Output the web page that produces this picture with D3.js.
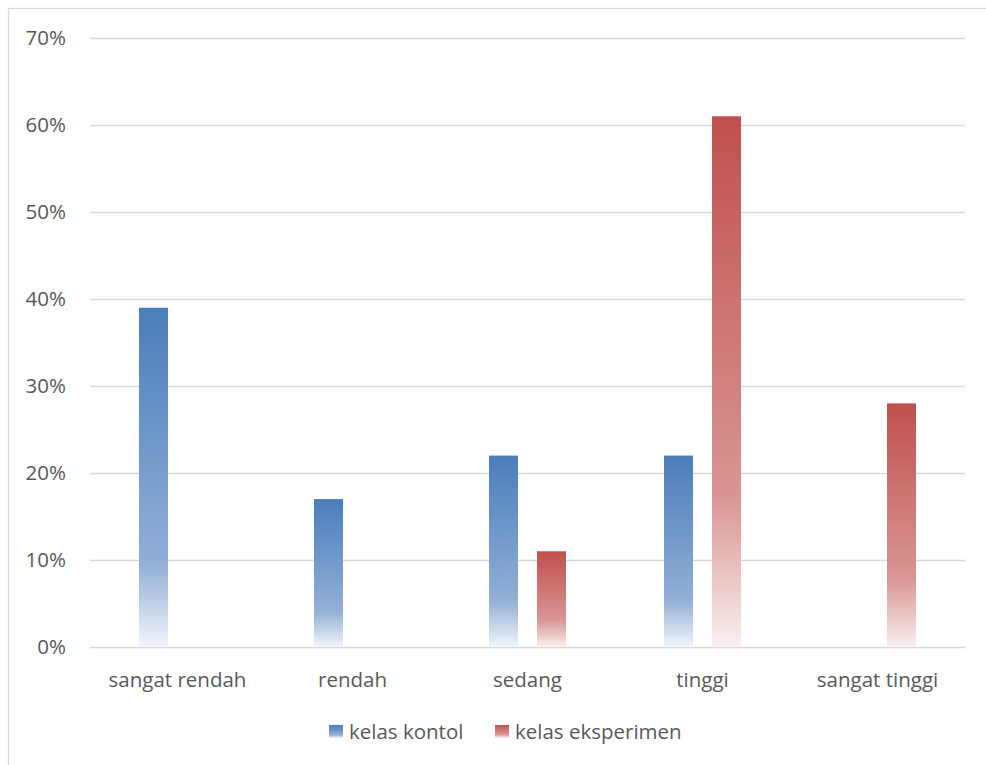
<!DOCTYPE html>
<html>
<head>
<meta charset="utf-8">
<script src="https://cdn.jsdelivr.net/npm/d3@7"></script>
<style>
  html, body { margin: 0; padding: 0; background: #fff; }
  svg { display: block; }
  text { font-family: "Open Sans", "Noto Sans", sans-serif; fill: #595959; }
</style>
</head>
<body>
<svg id="chart" width="986" height="765"></svg>
<script>
// Category levels along the x axis
const categories = ["sangat rendah", "rendah", "sedang", "tinggi", "sangat tinggi"];
// Share of students per level (%)
const kelasKontol = [39, 17, 22, 22, 0];
const kelasEksperimen = [0, 0, 11, 61, 28];
const seriesNames = ["kelas kontol", "kelas eksperimen"];
const yTicks = [0, 10, 20, 30, 40, 50, 60, 70];

const seriesValues = [kelasKontol, kelasEksperimen];
// Gradient stops per series: solid at top, lighter lower down, nearly white at base
const seriesGradients = [
  [["0%", "#4a7dbb"], ["76%", "#93b0d6"], ["100%", "#f2f5fa"]],
  [["0%", "#c0504d"], ["72%", "#d99694"], ["100%", "#f9f0f0"]]
];

const W = 986, H = 765;
const margin = { left: 90, right: 21, top: 38, bottom: 118 };
const fontSize = 20.5;
const svg = d3.select("#chart");

// Outer chart frame
svg.append("rect")
  .attr("x", 8.5).attr("y", 8.5)
  .attr("width", W + 10).attr("height", H - 4)
  .attr("fill", "#fff").attr("stroke", "#d9d9d9").attr("stroke-width", 1.3);

const x0 = d3.scaleBand().domain(categories)
  .range([margin.left, W - margin.right]).padding(0);
const x1 = d3.scaleBand().domain(seriesNames)
  .range([0, x0.bandwidth()]).paddingInner(0.396).paddingOuter(1.021);
const y = d3.scaleLinear().domain([0, 70])
  .range([H - margin.bottom, margin.top]);

const defs = svg.append("defs");
seriesGradients.forEach((stops, i) => {
  const g = defs.append("linearGradient").attr("id", "grad" + i)
    .attr("x1", 0).attr("y1", 0).attr("x2", 0).attr("y2", 1);
  stops.forEach(([o, c]) => g.append("stop").attr("offset", o).attr("stop-color", c));
});

// Horizontal gridlines and y axis labels
const yAxis = d3.axisLeft(y).tickValues(yTicks)
  .tickFormat(d => d + "%")
  .tickSize(-(W - margin.left - margin.right))
  .tickPadding(24);
const gy = svg.append("g").attr("transform", `translate(${margin.left},0)`).call(yAxis);
gy.select(".domain").remove();
gy.selectAll(".tick line").attr("stroke", "#d9d9d9").attr("stroke-width", 1.3);
gy.selectAll(".tick text")
  .attr("font-size", fontSize).attr("fill", "#595959")
  .style("font-family", '"Open Sans", "Noto Sans", sans-serif');

// Category labels
const xAxis = d3.axisBottom(x0).tickSize(0).tickPadding(25);
const gx = svg.append("g").attr("transform", `translate(0,${H - margin.bottom})`).call(xAxis);
gx.select(".domain").remove();
gx.selectAll(".tick text")
  .attr("font-size", fontSize).attr("fill", "#595959")
  .style("font-family", '"Open Sans", "Noto Sans", sans-serif');

// Bars
seriesNames.forEach((name, si) => {
  svg.append("g").selectAll("rect")
    .data(categories.map((c, ci) => ({ c, v: seriesValues[si][ci] })).filter(d => d.v > 0))
    .join("rect")
    .attr("x", d => x0(d.c) + x1(name))
    .attr("y", d => y(d.v))
    .attr("width", x1.bandwidth())
    .attr("height", d => y(0) - y(d.v))
    .attr("fill", `url(#grad${si})`);
});

// Legend
const legendX = [329, 495];
const legend = svg.append("g");
seriesNames.forEach((name, i) => {
  legend.append("rect")
    .attr("x", legendX[i]).attr("y", 725)
    .attr("width", 14).attr("height", 13)
    .attr("fill", `url(#grad${i})`);
  legend.append("text")
    .attr("x", legendX[i] + 20).attr("y", 739)
    .attr("font-size", fontSize)
    .text(name);
});
</script>
</body>
</html>
